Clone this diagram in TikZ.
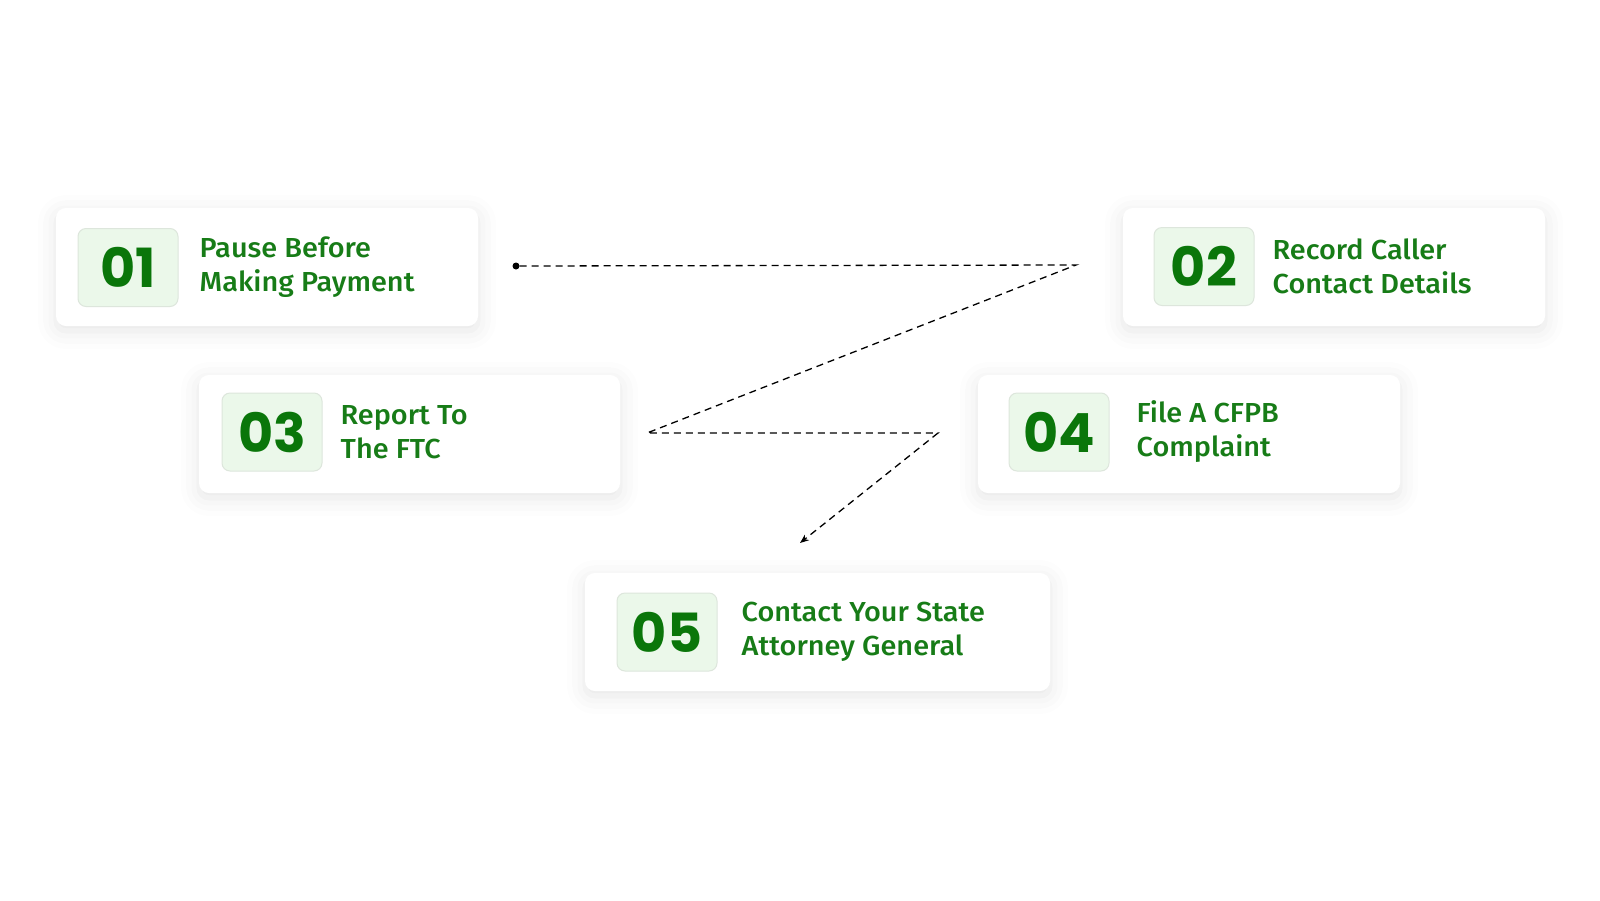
\documentclass[tikz,border=0pt]{standalone}
\usepackage{fontspec}
\usetikzlibrary{positioning,arrows.meta,shadows.blur}
\newfontfamily\numfont{Poppins}
\newfontfamily\labelfont{Fira Sans}[UprightFont={* Medium},FakeStretch=1.05]
\definecolor{stepgreen}{HTML}{177C17}
\definecolor{numgreen}{HTML}{0A760A}
\definecolor{boxfill}{HTML}{EBF8EA}
\definecolor{boxline}{HTML}{DDE6DC}
\tikzset{
  card/.style={fill=white,rounded corners=10pt,minimum height=118pt,
    blur shadow={shadow xshift=0pt,shadow yshift=-5pt,shadow blur radius=18pt,shadow opacity=10}},
  numbox/.style={fill=boxfill,draw=boxline,line width=1pt,rounded corners=8pt,
    minimum width=100pt,minimum height=78pt,inner sep=0pt,
    text=numgreen,font=\numfont\bfseries\fontsize{54}{54}\selectfont},
  steptext/.style={anchor=west,align=left,inner sep=0pt,text=stepgreen,
    font=\labelfont\fontsize{27.5}{34}\selectfont},
  flow/.style={line width=1.3pt,dash pattern=on 7pt off 5pt}
}
\begin{document}
\begin{tikzpicture}[x=1pt,y=-1pt]
\useasboundingbox (0,0) rectangle (1600,900);
% cards
\node[card,minimum width=422pt] (c1) at (267,267) {};
\node[card,minimum width=422pt] (c2) at (1334,267) {};
\node[card,minimum width=421pt] (c3) at (409.5,434) {};
\node[card,minimum width=422pt] (c4) at (1189,434) {};
\node[card,minimum width=465pt] (c5) at (817.5,632) {};
% numbers
\node[numbox] (n1) at (128,267.5) {01};
\node[numbox] (n2) at (1204,266.5) {02};
\node[numbox] (n3) at (272,432) {03};
\node[numbox] (n4) at (1059,432) {04};
\node[numbox] (n5) at (667,632) {05};
% labels
\node[steptext,right=21pt of n1] (t1) {Pause Before\\Making Payment};
\node[steptext,right=18pt of n2] (t2) {Record Caller\\Contact Details};
\node[steptext,right=18pt of n3] (t3) {Report To\\The FTC};
\node[steptext,right=27pt of n4] (t4) {File A CFPB\\Complaint};
\node[steptext,right=24pt of n5] (t5) {Contact Your State\\Attorney General};
% path
\node[circle,fill=black,inner sep=0pt,minimum size=7pt] (start) at (516,266) {};
\coordinate (k1) at (1076,265);
\coordinate (k2) at (647,433);
\coordinate (k3) at (938,433);
\coordinate (tip) at (800,543);
\draw[flow,-{Stealth[length=9pt,width=7pt]}] (start) -- (k1) -- (k2) -- (k3) -- (tip);
\end{tikzpicture}
\end{document}
